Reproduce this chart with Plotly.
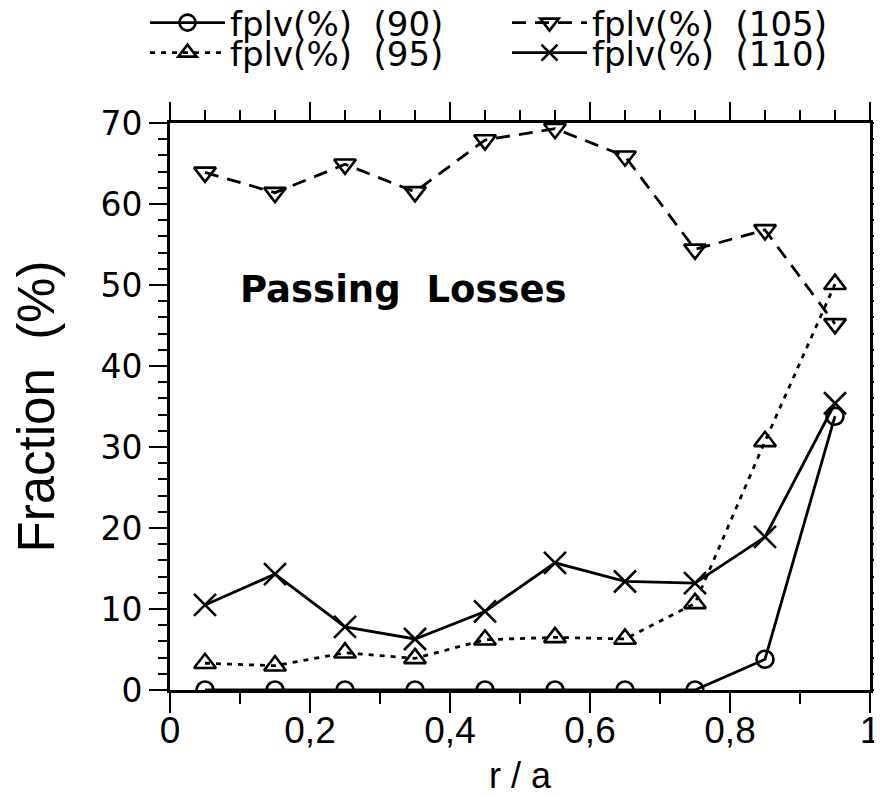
import plotly.graph_objects as go

r_a = [0.05, 0.15, 0.25, 0.35, 0.45, 0.55, 0.65, 0.75, 0.85, 0.95]
fplv_90 = [0.0, 0.0, 0.0, 0.0, 0.0, 0.0, 0.0, 0.0, 3.8, 33.8]
fplv_95 = [3.3, 3.0, 4.6, 3.9, 6.2, 6.5, 6.3, 10.7, 30.7, 50.1]
fplv_105 = [63.9, 61.4, 64.9, 61.5, 67.9, 69.3, 65.9, 54.4, 56.8, 45.2]
fplv_110 = [10.5, 14.3, 7.8, 6.3, 9.7, 15.7, 13.4, 13.2, 18.9, 35.4]
names = ["fplv(%)  (90)", "fplv(%)  (95)", "fplv(%)  (105)", "fplv(%)  (110)"]

BLACK = "black"
LW = 2.8
W, H = 874, 789  # page body adds an 8px offset inside the 882x797 window

fig = go.Figure()

def add(y, name, dash, symbol, size, legend):
    fig.add_trace(go.Scatter(
        x=r_a, y=y, name=name, mode="lines+markers",
        line=dict(color=BLACK, width=LW, dash=dash),
        marker=dict(symbol=symbol, size=size, color=BLACK,
                    line=dict(color=BLACK, width=2.6)),
        legend=legend,
    ))

add(fplv_90, names[0], "solid", "circle-open", 17, "legend")
add(fplv_95, names[1], "5px,6px", "triangle-up-open", 19, "legend2")
add(fplv_105, names[2], "14px,9px", "triangle-down-open", 19, "legend3")
add(fplv_110, names[3], "solid", "x-thin-open", 22, "legend4")

# empty trace so the mirrored top/right axes are drawn
fig.add_trace(go.Scatter(x=[], y=[], xaxis="x2", yaxis="y2", showlegend=False))

TICKFONT = dict(family="Liberation Sans, Arial, sans-serif", size=37, color=BLACK)
LEGFONT = dict(family="DejaVu Sans, sans-serif", size=34, color=BLACK)

def leg(xpx, ypx):
    return dict(
        orientation="h", xref="container", yref="container",
        x=xpx / W, y=1 - ypx / H, xanchor="left", yanchor="middle",
        itemwidth=75, font=LEGFONT, bgcolor="rgba(0,0,0,0)",
    )

fig.update_layout(
    width=W, height=H,
    margin=dict(l=162, r=12, t=115, b=107, autoexpand=False),
    paper_bgcolor="white", plot_bgcolor="white",
    separators=",.",
    showlegend=True,
    xaxis=dict(
        range=[0, 1], tickvals=[0, 0.2, 0.4, 0.6, 0.8, 1.0],
        ticks="outside", ticklen=20, tickwidth=2, tickcolor=BLACK,
        minor=dict(dtick=0.1, tick0=0, ticks="outside", ticklen=11, tickwidth=2, tickcolor=BLACK),
        showline=True, linewidth=2.8, linecolor=BLACK,
        showgrid=False, zeroline=False, automargin=False,
        tickfont=TICKFONT, ticklabelstandoff=-14,
    ),
    yaxis=dict(
        range=[0, 70], tickvals=[0, 10, 20, 30, 40, 50, 60, 70],
        ticks="outside", ticklen=18, tickwidth=2, tickcolor=BLACK,
        minor=dict(dtick=2, tick0=0, ticks="outside", ticklen=9, tickwidth=2, tickcolor=BLACK),
        showline=True, linewidth=2.8, linecolor=BLACK,
        showgrid=False, zeroline=False, automargin=False,
        tickfont=dict(family="DejaVu Sans, sans-serif", size=33, color=BLACK),
        title=dict(text="Fraction  (%)", font=dict(family="Liberation Sans, Arial, sans-serif", size=51, color=BLACK), standoff=36),
    ),
    xaxis2=dict(
        overlaying="x", side="top", range=[0, 1], tickvals=[0, 0.2, 0.4, 0.6, 0.8, 1.0],
        ticks="outside", ticklen=18, tickwidth=2, tickcolor=BLACK,
        minor=dict(dtick=0.05, tick0=0, ticks="outside", ticklen=10, tickwidth=2, tickcolor=BLACK),
        showline=True, linewidth=2.8, linecolor=BLACK, automargin=False,
        showticklabels=False, showgrid=False, zeroline=False,
    ),
    yaxis2=dict(
        overlaying="y", side="right", range=[0, 70], tickvals=[0, 10, 20, 30, 40, 50, 60, 70],
        ticks="outside", ticklen=10, tickwidth=2, tickcolor=BLACK,
        minor=dict(dtick=2, tick0=0, ticks="outside", ticklen=10, tickwidth=2, tickcolor=BLACK),
        showline=True, linewidth=2.8, linecolor=BLACK, automargin=False,
        showticklabels=False, showgrid=False, zeroline=False,
    ),
    legend=leg(137, 15),
    legend2=leg(137, 45),
    legend3=leg(499, 15),
    legend4=leg(499, 45),
    annotations=[
        dict(text="<b>Passing  Losses</b>", x=0.334, y=49.4, xref="x", yref="y",
             showarrow=False, xanchor="center", yanchor="middle",
             font=dict(family="DejaVu Sans, sans-serif", size=37, color=BLACK)),
        dict(text="r / a", x=0.5, y=-0.15, xref="x", yref="paper",
             showarrow=False, xanchor="center", yanchor="middle",
             font=dict(family="Liberation Sans, Arial, sans-serif", size=36, color=BLACK)),
    ],
)

fig.write_html("out.html")
